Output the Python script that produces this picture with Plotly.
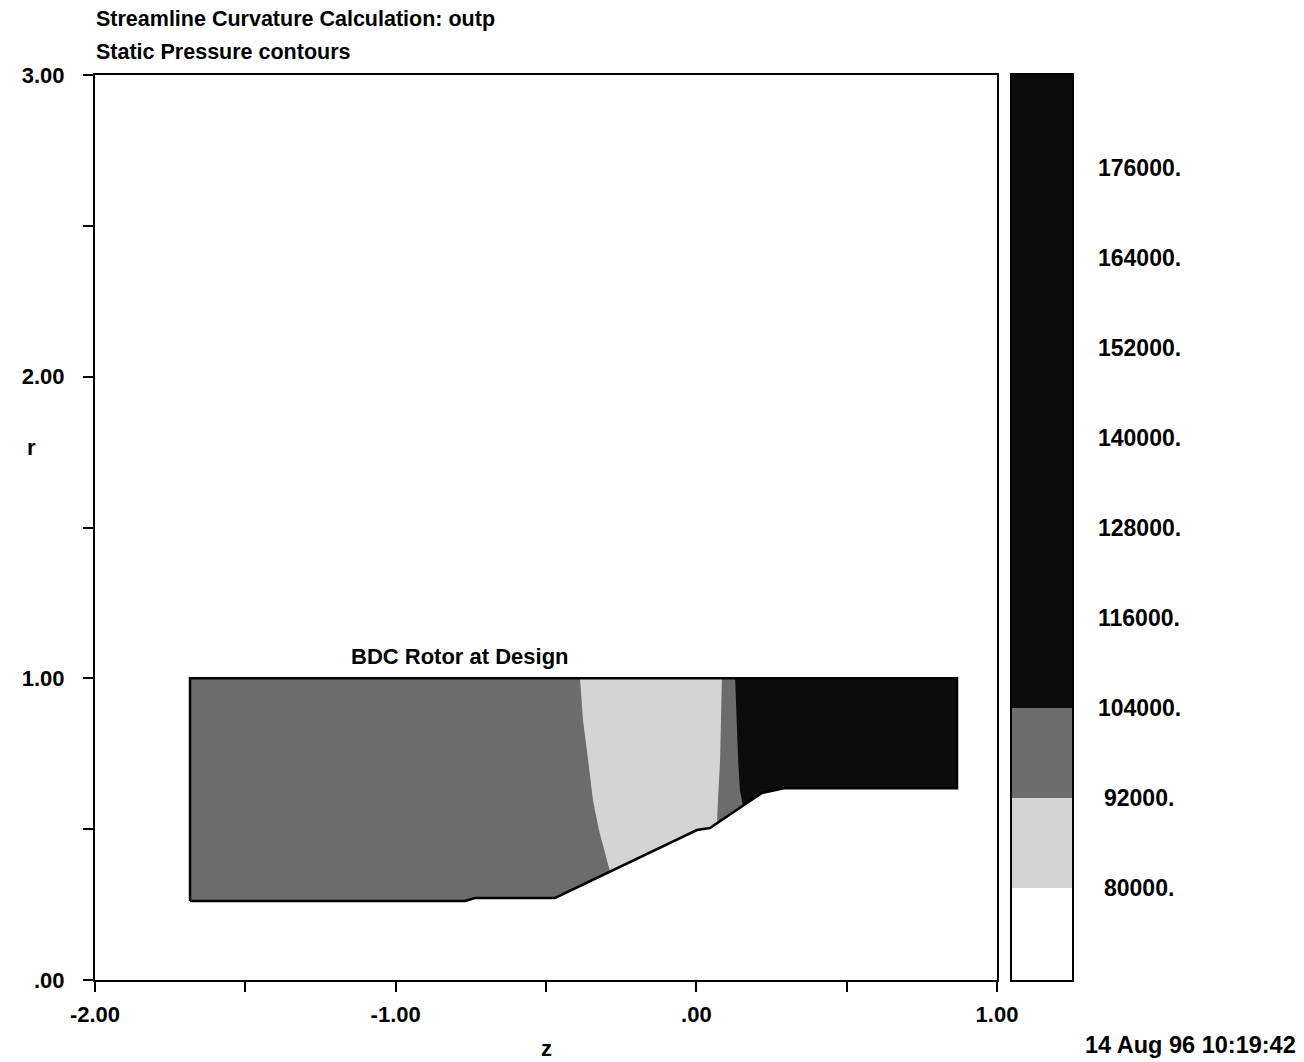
import plotly.graph_objects as go

# ---------------- data ----------------
# hub (lower) boundary of the flow domain, z / r
hub_z = [-1.684, -0.769, -0.736, -0.470, 0.002, 0.045, 0.218, 0.295, 0.867]
hub_r = [0.262, 0.262, 0.272, 0.272, 0.497, 0.504, 0.620, 0.636, 0.636]
shroud_r = 1.0

# iso-pressure boundaries (from shroud down to hub)
iso92a_z = [-0.387, -0.377, -0.360, -0.344, -0.324, -0.287]
iso92a_r = [1.000, 0.862, 0.729, 0.597, 0.497, 0.359]
iso92b_z = [0.085, 0.082, 0.079, 0.072, 0.069]
iso92b_r = [1.000, 0.862, 0.729, 0.597, 0.520]
iso104_z = [0.129, 0.135, 0.139, 0.145, 0.155]
iso104_r = [1.000, 0.839, 0.729, 0.630, 0.578]

# colour-bar levels
level_edges = [67733, 80000, 92000, 104000, 188400]
level_colors = ["#ffffff", "#d4d4d4", "#6c6c6c", "#0c0c0c"]
cbar_labels = [80000, 92000, 104000, 116000, 128000, 140000, 152000, 164000, 176000]

x_ticks = [-2.0, -1.5, -1.0, -0.5, 0.0, 0.5, 1.0]
x_ticktext = ["-2.00", "", "-1.00", "", ".00", "", "1.00"]
y_ticks = [0.0, 0.5, 1.0, 1.5, 2.0, 2.5, 3.0]
y_ticktext = [".00", "", "1.00", "", "2.00", "", "3.00"]

FONT = "Liberation Sans, Arial, Helvetica, sans-serif"
W, H = 1304, 1062


def px(x):
    return x / W


def py(y):
    return 1 - y / H


def right_region(iz, ir):
    zs = list(iz)
    rs = list(ir)
    zb = iz[-1]
    for z, r in zip(hub_z, hub_r):
        if z > zb:
            zs.append(z)
            rs.append(r)
    zs.append(hub_z[-1])
    rs.append(shroud_r)
    zs.append(iz[0])
    rs.append(shroud_r)
    return zs, rs


fig = go.Figure()

# full domain (92000-104000 band)
dom_z = list(hub_z) + [hub_z[-1], hub_z[0], hub_z[0]]
dom_r = list(hub_r) + [shroud_r, shroud_r, hub_r[0]]
fig.add_trace(go.Scatter(x=dom_z, y=dom_r, fill="toself", mode="none",
                         fillcolor=level_colors[2], hoverinfo="skip", showlegend=False))

for (iz, ir), col in [((iso92a_z, iso92a_r), level_colors[1]),
                      ((iso92b_z, iso92b_r), level_colors[2]),
                      ((iso104_z, iso104_r), level_colors[3])]:
    zs, rs = right_region(iz, ir)
    fig.add_trace(go.Scatter(x=zs, y=rs, fill="toself", mode="none",
                             fillcolor=col, hoverinfo="skip", showlegend=False))

# domain outline
fig.add_trace(go.Scatter(x=dom_z, y=dom_r, mode="lines",
                         line=dict(color="black", width=2.5),
                         hoverinfo="skip", showlegend=False))

# colour bar as stacked bars on second axes
for lo, hi, col in zip(level_edges[:-1], level_edges[1:], level_colors):
    fig.add_trace(go.Bar(x=[0], y=[hi - lo], base=[lo], width=1.0,
                         marker=dict(color=col, line=dict(width=0)),
                         xaxis="x2", yaxis="y2", hoverinfo="skip", showlegend=False))

dom_x = [px(95), px(997)]
dom_y = [py(980), py(75)]
cb_x = [px(1012), px(1072)]

fig.update_layout(
    width=W, height=H,
    margin=dict(l=0, r=0, t=0, b=0, autoexpand=False),
    paper_bgcolor="white", plot_bgcolor="white",
    font=dict(family=FONT, size=22, color="black"),
    barmode="overlay",
    xaxis=dict(domain=dom_x, range=[-2, 1], showgrid=False, zeroline=False,
               automargin=False,
               showline=True, linecolor="black", linewidth=2, mirror=True,
               ticks="outside", ticklen=10, tickwidth=1.5, tickcolor="black",
               tickvals=x_ticks, ticktext=x_ticktext, ticklabelstandoff=4,
               tickfont=dict(size=22, weight="bold")),
    yaxis=dict(domain=dom_y, range=[0, 3], showgrid=False, zeroline=False,
               automargin=False,
               showline=True, linecolor="black", linewidth=2, mirror=True,
               ticks="outside", ticklen=10, tickwidth=1.5, tickcolor="black",
               tickvals=y_ticks, ticktext=y_ticktext, ticklabelstandoff=14,
               tickfont=dict(size=22, weight="bold")),
    xaxis2=dict(domain=cb_x, range=[-0.5, 0.5], showgrid=False, zeroline=False,
                automargin=False,
                showline=True, linecolor="black", linewidth=2, mirror=True,
                showticklabels=False, ticks="", anchor="y2"),
    yaxis2=dict(domain=dom_y, range=[level_edges[0], level_edges[-1]], showgrid=False,
                automargin=False,
                zeroline=False, showline=True, linecolor="black", linewidth=2,
                mirror=True, showticklabels=False, ticks="", anchor="x2"),
)

ann = [
    dict(text="Streamline Curvature Calculation: outp", x=px(94), y=py(19),
         xanchor="left", yanchor="middle", font=dict(size=21.5, weight="bold")),
    dict(text="Static Pressure contours", x=px(94), y=py(52),
         xanchor="left", yanchor="middle", font=dict(size=21.5, weight="bold")),
    dict(text="r", x=px(31), y=py(447), xanchor="center", yanchor="middle",
         font=dict(size=22, weight="bold")),
    dict(text="z", x=px(546), y=py(1048), xanchor="center", yanchor="middle",
         font=dict(size=22, weight="bold")),
    dict(text="14 Aug 96 10:19:42", x=px(1298), y=py(1045), xanchor="right",
         yanchor="middle", font=dict(size=23.5, weight="bold")),
]
for a in ann:
    a.update(xref="paper", yref="paper", showarrow=False)
fig.update_layout(annotations=ann)

fig.add_annotation(text="BDC Rotor at Design", x=-0.786, y=1.074, xref="x", yref="y",
                   showarrow=False, xanchor="center", yanchor="middle",
                   font=dict(size=22, weight="bold"))

for v in cbar_labels:
    fig.add_annotation(text=f"{v}.", x=px(1139), y=v, xref="paper", yref="y2",
                       showarrow=False, xanchor="center", yanchor="middle",
                       font=dict(size=23, weight="bold"))

fig.write_html("out.html")
